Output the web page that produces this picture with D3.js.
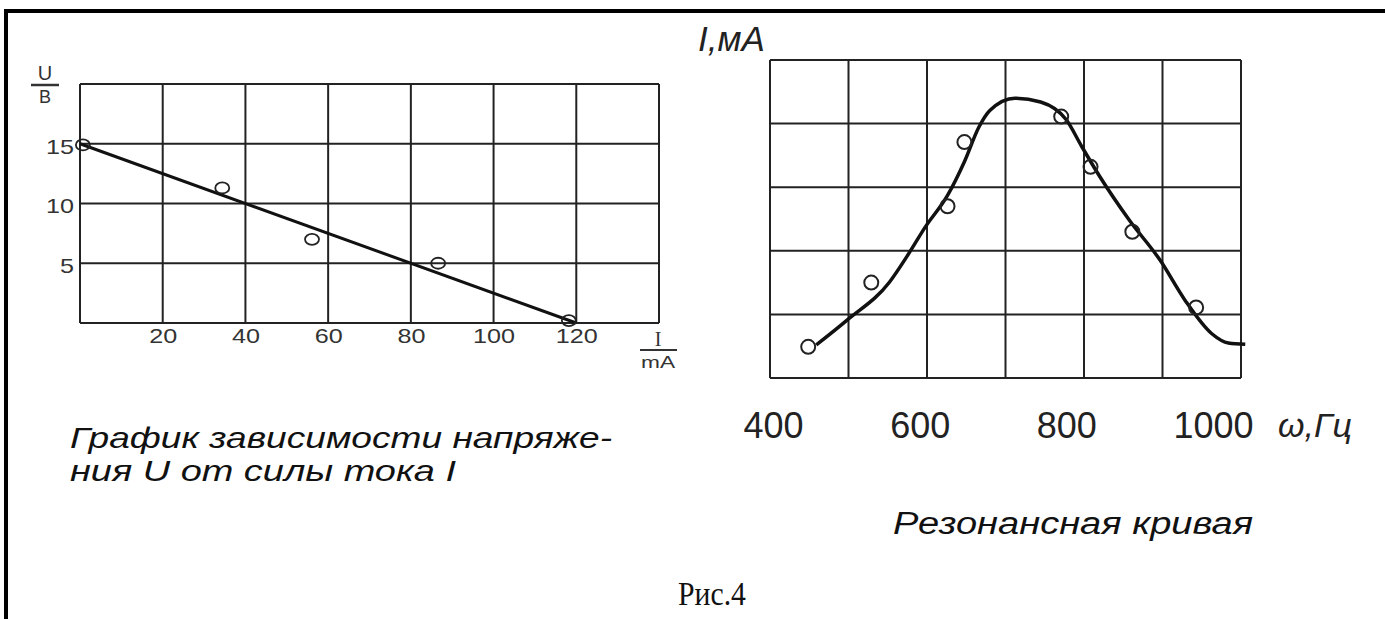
<!DOCTYPE html>
<html>
<head>
<meta charset="utf-8">
<script src="https://cdn.jsdelivr.net/npm/d3@7"></script>
<style>
  body { margin: 0; background: #fff; }
  text { font-family: "Liberation Sans", Arial, sans-serif; }
</style>
</head>
<body>
<div id="fig"></div>
<script>
// Left chart: U (V) against I (mA)
var currentMA = [0.7, 34.4, 56.1, 86.6, 118.2];
var voltageV = [14.9, 11.3, 7.0, 5.0, 0.2];
var fitCurrent = [0, 120];
var fitVoltage = [15, 0];
var iTicks = [20, 40, 60, 80, 100, 120];
var uTicks = [5, 10, 15];
var iGrid = [0, 20, 40, 60, 80, 100, 120, 140];
var uGrid = [0, 5, 10, 15, 20];

// Right chart: resonance curve, I (grid units) against omega (Hz)
var freqHz = [448, 534, 638, 661, 793, 833, 890, 977];
var ampI = [0.49, 1.50, 2.70, 3.71, 4.11, 3.32, 2.30, 1.11];
var curveHz = [459, 501, 559, 582, 608, 638, 661, 681, 696, 730, 765, 800, 821, 846, 886, 928, 962, 998, 1021, 1044];
var curveI = [0.52, 0.91, 1.51, 1.90, 2.38, 2.87, 3.40, 3.95, 4.21, 4.40, 4.34, 4.06, 3.64, 3.16, 2.48, 1.85, 1.22, 0.70, 0.55, 0.53];
var wTicks = [400, 600, 800, 1000];

var width = 1385, height = 619;

var svg = d3.select("#fig")
    .append("svg")
    .attr("width", width)
    .attr("height", height);

// frame of the page (top and left edges only are visible)
svg.append("path")
    .attr("d", "M6,619 V11 H1385")
    .attr("fill", "none")
    .attr("stroke", "#000")
    .attr("stroke-width", 4);

// ---------- left chart ----------
var xL = d3.scaleLinear().domain([0, 140]).range([80, 659]);
var yL = d3.scaleLinear().domain([0, 20]).range([323, 84]);

var left = svg.append("g");

left.selectAll(".vgrid")
    .data(iGrid)
    .enter().append("line")
    .attr("x1", function (d) { return xL(d); })
    .attr("x2", function (d) { return xL(d); })
    .attr("y1", yL(0))
    .attr("y2", yL(20))
    .attr("stroke", "#222")
    .attr("stroke-width", 2);

left.selectAll(".hgrid")
    .data(uGrid)
    .enter().append("line")
    .attr("x1", xL(0))
    .attr("x2", xL(140))
    .attr("y1", function (d) { return yL(d); })
    .attr("y2", function (d) { return yL(d); })
    .attr("stroke", "#222")
    .attr("stroke-width", 2);

// tick labels through axes, no tick lines
var axL = left.append("g")
    .attr("transform", "translate(0," + yL(0) + ")")
    .call(d3.axisBottom(xL).tickValues(iTicks).tickSize(0).tickPadding(5));
axL.select(".domain").remove();
axL.selectAll("text").attr("font-size", 21).attr("fill", "#333")
    .attr("textLength", function (d) { return String(d).length * 14; })
    .attr("lengthAdjust", "spacingAndGlyphs")
    .attr("font-family", "Liberation Sans, Arial, sans-serif");

var ayL = left.append("g")
    .attr("transform", "translate(" + (xL(0) - 2) + ",0)")
    .call(d3.axisLeft(yL).tickValues(uTicks).tickSize(0).tickPadding(4));
ayL.select(".domain").remove();
ayL.selectAll("text").attr("font-size", 21).attr("fill", "#333").attr("dy", "0.45em")
    .attr("textLength", function (d) { return String(d).length * 14; })
    .attr("lengthAdjust", "spacingAndGlyphs")
    .attr("font-family", "Liberation Sans, Arial, sans-serif");

// fitted line
left.append("path")
    .datum(d3.zip(fitCurrent, fitVoltage))
    .attr("fill", "none")
    .attr("stroke", "#111")
    .attr("stroke-width", 3)
    .attr("d", d3.line()
        .x(function (d) { return xL(d[0]); })
        .y(function (d) { return yL(d[1]); }));

// measured points
left.selectAll(".pt")
    .data(d3.zip(currentMA, voltageV))
    .enter().append("ellipse")
    .attr("cx", function (d) { return xL(d[0]); })
    .attr("cy", function (d) { return yL(d[1]); })
    .attr("rx", 7)
    .attr("ry", 5.5)
    .attr("fill", "none")
    .attr("stroke", "#222")
    .attr("stroke-width", 1.8);

// axis names as fractions U/B and I/mA
left.append("text").attr("x", 45).attr("y", 80).attr("text-anchor", "middle")
    .attr("font-size", 20).attr("fill", "#333").text("U");
left.append("line").attr("x1", 31).attr("x2", 59).attr("y1", 85).attr("y2", 85)
    .attr("stroke", "#333").attr("stroke-width", 2.5);
left.append("text").attr("x", 45).attr("y", 103).attr("text-anchor", "middle")
    .attr("font-size", 18).attr("fill", "#333").text("B");

left.append("text").attr("x", 658).attr("y", 346).attr("text-anchor", "middle")
    .attr("font-size", 20).attr("fill", "#333")
    .style("font-family", "Liberation Serif, serif").text("I");
left.append("line").attr("x1", 640).attr("x2", 677).attr("y1", 350).attr("y2", 350)
    .attr("stroke", "#333").attr("stroke-width", 2);
left.append("text").attr("x", 658).attr("y", 368).attr("text-anchor", "middle")
    .attr("font-size", 16).attr("fill", "#333").attr("textLength", 34)
    .attr("lengthAdjust", "spacingAndGlyphs").text("mA");

// caption
left.append("text").attr("x", 70).attr("y", 448)
    .attr("font-size", 30).attr("font-style", "italic").attr("fill", "#111")
    .attr("textLength", 542).attr("lengthAdjust", "spacingAndGlyphs")
    .text("График зависимости напряже-");
left.append("text").attr("x", 70).attr("y", 481)
    .attr("font-size", 30).attr("font-style", "italic").attr("fill", "#111")
    .attr("textLength", 386).attr("lengthAdjust", "spacingAndGlyphs")
    .text("ния U от силы тока I");

// ---------- right chart ----------
var xR = d3.scaleLinear().domain([400, 1000]).range([773, 1213]);
var yR = d3.scaleLinear().domain([0, 5]).range([378, 60]);
var gridX = d3.scaleLinear().domain([0, 6]).range([770, 1241]);

var right = svg.append("g");

right.selectAll(".vgrid")
    .data(d3.range(7))
    .enter().append("line")
    .attr("x1", function (d) { return gridX(d); })
    .attr("x2", function (d) { return gridX(d); })
    .attr("y1", yR(0))
    .attr("y2", yR(5))
    .attr("stroke", "#222")
    .attr("stroke-width", 2);

right.selectAll(".hgrid")
    .data(d3.range(6))
    .enter().append("line")
    .attr("x1", gridX(0))
    .attr("x2", gridX(6))
    .attr("y1", function (d) { return yR(d); })
    .attr("y2", function (d) { return yR(d); })
    .attr("stroke", "#222")
    .attr("stroke-width", 2);

var axR = right.append("g")
    .attr("transform", "translate(0,438)")
    .call(d3.axisBottom(xR).tickValues(wTicks).tickFormat(d3.format("d")).tickSize(0).tickPadding(0));
axR.select(".domain").remove();
axR.selectAll("text").attr("font-size", 36).attr("fill", "#222").attr("dy", 0)
    .attr("font-family", "Liberation Sans, Arial, sans-serif");

right.append("text").attr("x", 1278).attr("y", 437)
    .attr("font-size", 34).attr("font-style", "italic").attr("fill", "#222")
    .text("ω,Гц");

right.append("text").attr("x", 698).attr("y", 51)
    .attr("font-size", 35).attr("font-style", "italic").attr("fill", "#222")
    .text("I,мА");

// resonance curve
right.append("path")
    .datum(d3.zip(curveHz, curveI))
    .attr("fill", "none")
    .attr("stroke", "#111")
    .attr("stroke-width", 3.5)
    .attr("d", d3.line()
        .curve(d3.curveMonotoneX)
        .x(function (d) { return xR(d[0]); })
        .y(function (d) { return yR(d[1]); }));

right.selectAll(".pt")
    .data(d3.zip(freqHz, ampI))
    .enter().append("circle")
    .attr("cx", function (d) { return xR(d[0]); })
    .attr("cy", function (d) { return yR(d[1]); })
    .attr("r", 7)
    .attr("fill", "none")
    .attr("stroke", "#222")
    .attr("stroke-width", 2);

right.append("text").attr("x", 893).attr("y", 534)
    .attr("font-size", 31).attr("font-style", "italic").attr("fill", "#111")
    .attr("textLength", 360).attr("lengthAdjust", "spacingAndGlyphs")
    .text("Резонансная кривая");

// figure number
svg.append("text").attr("x", 712).attr("y", 605).attr("text-anchor", "middle")
    .attr("font-size", 34).attr("fill", "#111")
    .attr("textLength", 68).attr("lengthAdjust", "spacingAndGlyphs")
    .style("font-family", "Liberation Serif, Times New Roman, serif")
    .text("Рис.4");
</script>
</body>
</html>
